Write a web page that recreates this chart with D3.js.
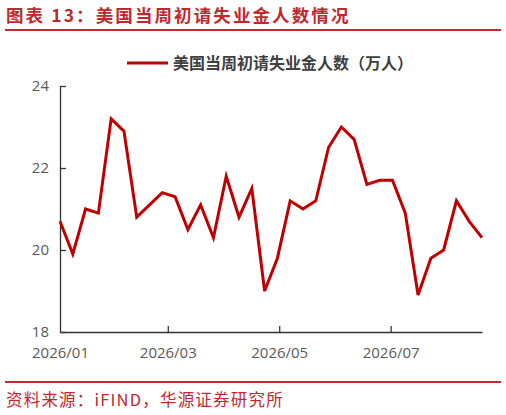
<!DOCTYPE html>
<html>
<head>
<meta charset="utf-8">
<script src="https://cdn.jsdelivr.net/npm/d3@7"></script>
<style>
  body { margin: 0; background: #fff; }
  svg { display: block; }
</style>
</head>
<body>
<div id="chart"></div>
<script>
// weekly initial claims, 10k persons, weeks starting 2026-01-01
var startDate = "2026-01-01";
var claims = [20.7, 19.9, 21.0, 20.9, 23.2, 22.9, 20.8, 21.1, 21.4, 21.3,
              20.5, 21.1, 20.3, 21.8, 20.8, 21.5, 19.0, 19.8, 21.2, 21.0,
              21.2, 22.5, 23.0, 22.7, 21.6, 21.7, 21.7, 20.9, 18.9, 19.8,
              20.0, 21.2, 20.7, 20.3];
var yTicks = [18, 20, 22, 24];
var xTickDates = ["2026-01-01", "2026-03-01", "2026-05-01", "2026-07-01"];
var seriesName = "美国当周初请失业金人数（万人）";
var titleText = "图表 13：美国当周初请失业金人数情况";
var sourceText = "资料来源：iFIND，华源证券研究所";

var width = 506, height = 415;
var margin = {top: 86, right: 24, bottom: 83, left: 60};

var parse = d3.timeParse("%Y-%m-%d");
var t0 = parse(startDate);
var data = claims.map(function(v, i) {
  return {date: d3.timeDay.offset(t0, i * 7), value: v};
});

var svg = d3.select("#chart").append("svg")
  .attr("width", width)
  .attr("height", height);

var red = "#c0282e";

// title + rules
svg.append("text")
  .attr("x", 6).attr("y", 22)
  .attr("fill", red)
  .style("font-family", "'Noto Sans CJK SC'")
  .style("font-size", "17.5px")
  .style("font-weight", "bold")
  .style("letter-spacing", "2.1px")
  .text(titleText);
svg.append("rect").attr("x", 5).attr("y", 29).attr("width", 496).attr("height", 2).attr("fill", red);
svg.append("rect").attr("x", 5).attr("y", 381).attr("width", 496).attr("height", 2).attr("fill", red);
svg.append("text")
  .attr("x", 6).attr("y", 406)
  .attr("fill", red)
  .style("font-family", "'Noto Sans CJK SC'")
  .style("font-size", "16.5px")
  .style("letter-spacing", "1.2px")
  .text(sourceText);

var x = d3.scaleTime()
  .domain(d3.extent(data, d => d.date))
  .range([margin.left, width - margin.right]);
var y = d3.scaleLinear()
  .domain([18, 24])
  .range([height - margin.bottom, margin.top]);

var axisColor = "#333";
var labelColor = "#595959";

var yAxis = svg.append("g")
  .attr("transform", "translate(" + margin.left + ",0)")
  .call(d3.axisLeft(y).tickValues(yTicks).tickSizeInner(-6).tickSizeOuter(0).tickPadding(11).tickFormat(d3.format("d")));
var xAxis = svg.append("g")
  .attr("transform", "translate(0," + (height - margin.bottom) + ")")
  .call(d3.axisBottom(x).tickValues(xTickDates.map(parse)).tickSizeInner(-6).tickSizeOuter(0).tickPadding(15).tickFormat(d3.timeFormat("%Y/%m")));

[xAxis, yAxis].forEach(function(a) {
  a.select(".domain").attr("stroke", axisColor).attr("stroke-width", 1.3);
  a.selectAll(".tick line").attr("stroke", axisColor).attr("stroke-width", 1.3);
  a.selectAll(".tick text")
    .attr("fill", labelColor)
    .style("font-family", "'Open Sans'")
    .style("font-size", "15px");
});
// first x tick sits on the y axis line already
xAxis.selectAll(".tick line").filter((d, i) => i === 0).remove();

var line = d3.line()
  .x(d => x(d.date))
  .y(d => y(d.value));

svg.append("path")
  .datum(data)
  .attr("fill", "none")
  .attr("stroke", "#c00000")
  .attr("stroke-width", 3)
  .attr("stroke-linejoin", "miter")
  .attr("d", line);

// legend
var legend = svg.append("g").attr("transform", "translate(127,63)");
legend.append("line")
  .attr("x1", 0).attr("x2", 41)
  .attr("stroke", "#c00000").attr("stroke-width", 3);
legend.append("text")
  .attr("x", 46).attr("y", 0)
  .attr("dy", "0.35em")
  .attr("fill", "#404040")
  .style("font-family", "'Noto Sans CJK SC'")
  .style("font-size", "16px")
  .style("font-weight", "bold")
  .text(seriesName);
</script>
</body>
</html>
